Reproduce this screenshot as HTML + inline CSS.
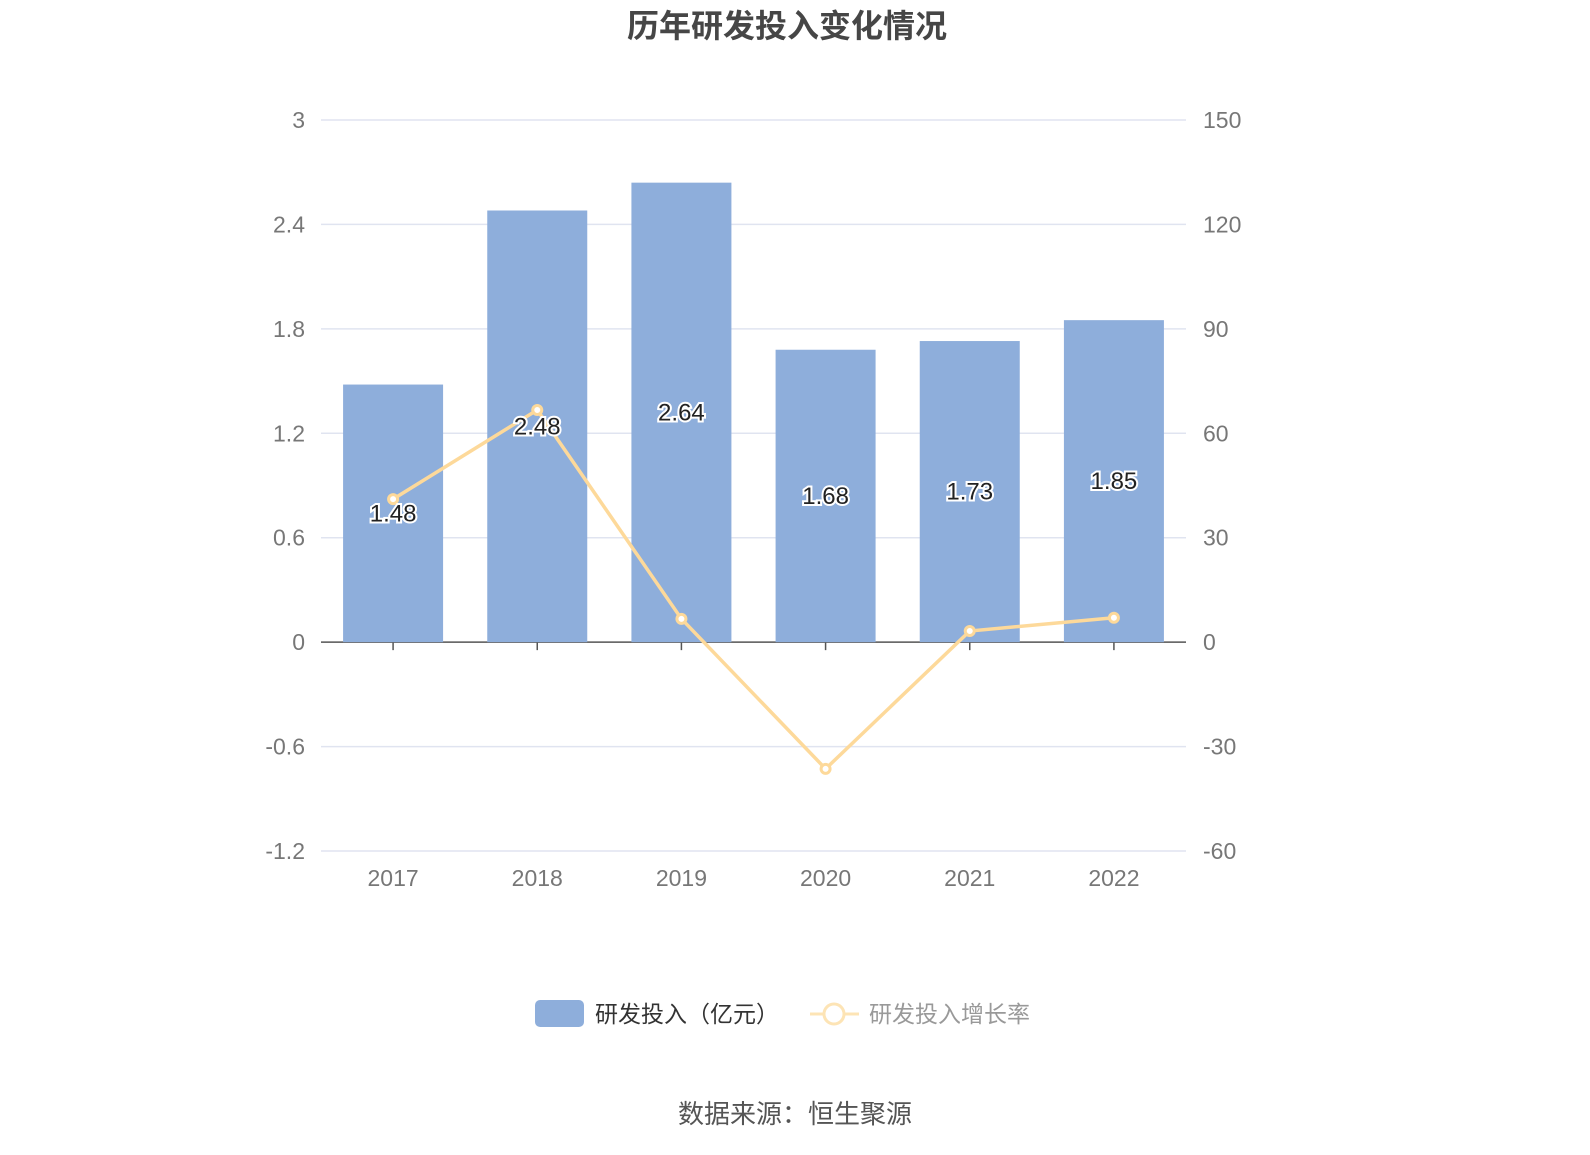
<!DOCTYPE html>
<html><head><meta charset="utf-8"><style>
body{margin:0;background:#fff;font-family:"Liberation Sans","Noto Sans CJK SC",sans-serif;}
</style></head><body>
<svg width="1590" height="1150" xmlns="http://www.w3.org/2000/svg" font-family="Liberation Sans, Noto Sans CJK SC, sans-serif">
<text x="787" y="37" text-anchor="middle" font-size="32" font-weight="bold" fill="#464646">历年研发投入变化情况</text>
<g id="grid"></g><g id="bars"></g><g id="line"></g><g id="labels"></g>
<g>
<rect x="535" y="1000" width="49" height="27" rx="5" fill="#8eaedb"/>
<text x="595" y="1022" font-size="23" fill="#333">研发投入（亿元）</text>
<line x1="810" y1="1014" x2="859" y2="1014" stroke="#fde4b5" stroke-width="3"/>
<circle cx="834" cy="1014" r="10" fill="#fff" stroke="#fde4b5" stroke-width="3"/>
<text x="869" y="1022" font-size="23" fill="#999">研发投入增长率</text>
</g>
<text x="795" y="1123" text-anchor="middle" font-size="26" fill="#555">数据来源：恒生聚源</text>
</svg>
<script>
const categories=["2017","2018","2019","2020","2021","2022"];
const rdValues=[1.48,2.48,2.64,1.68,1.73,1.85];
const growthValues=[41.1,66.7,6.7,-36.4,3.2,7.0];
const leftTicks=[3,2.4,1.8,1.2,0.6,0,-0.6,-1.2];
const rightTicks=[150,120,90,60,30,0,-30,-60];
const NS="http://www.w3.org/2000/svg";
const x0=321,x1=1186,yTop=120,yBot=851;
const yL=v=>yTop+(3-v)/4.2*(yBot-yTop);
const yR=v=>yTop+(150-v)/210*(yBot-yTop);
const band=(x1-x0)/categories.length;
const xC=i=>x0+band*(i+0.5);
function mk(t,a,p){const e=document.createElementNS(NS,t);for(const k in a)e.setAttribute(k,a[k]);p.appendChild(e);return e;}
const g=document.getElementById('grid');
leftTicks.forEach((v,i)=>{
 const y=yL(v);
 if(v!==0){const l=mk('line',{x1:x0,x2:x1,y1:y,y2:y,stroke:'#e0e4f0','stroke-width':1.5},g);
 
 }
 const t=mk('text',{x:305,y:y+8,'text-anchor':'end','font-size':23,fill:'#777'},g);t.textContent=v;
 
 
 const r=mk('text',{x:1203,y:yR(rightTicks[i])+8,'font-size':23,fill:'#777'},g);r.textContent=rightTicks[i];
 
 
});
const bars=document.getElementById('bars'),lab=document.getElementById('labels'),ln=document.getElementById('line');
categories.forEach((c,i)=>{
 const x=xC(i),top=yL(rdValues[i]),base=yL(0);
 const b=mk('rect',{x:x-50,y:top,width:100,height:base-top,fill:'#8eaedb'},bars);
 
 
 const t=mk('text',{x:x,y:yBot+35,'text-anchor':'middle','font-size':23,fill:'#777'},g);t.textContent=c;
 
 
 mk('line',{x1:x,x2:x,y1:base,y2:base+8,stroke:'#555','stroke-width':1.5},g);
});
mk('line',{x1:x0,x2:x1,y1:yL(0),y2:yL(0),stroke:'#555','stroke-width':1.5},g);
const pts=growthValues.map((v,i)=>xC(i)+','+yR(v)).join(' ');
const pl=mk('polyline',{points:pts,fill:'none',stroke:'#fdd99a','stroke-width':3.5},ln);


growthValues.forEach((v,i)=>{
 const p=mk('circle',{cx:xC(i),cy:yR(v),r:4.5,fill:'#fff',stroke:'#fdd99a','stroke-width':3},ln);
 
 
});
rdValues.forEach((v,i)=>{
 const y=(yL(v)+yL(0))/2+8;
 const t=mk('text',{x:xC(i),y:y,'text-anchor':'middle','font-size':24,fill:'#222',stroke:'#fff','stroke-width':4,'paint-order':'stroke'},lab);
 t.textContent=v.toFixed(2);
 
 
});
</script>
</body></html>
